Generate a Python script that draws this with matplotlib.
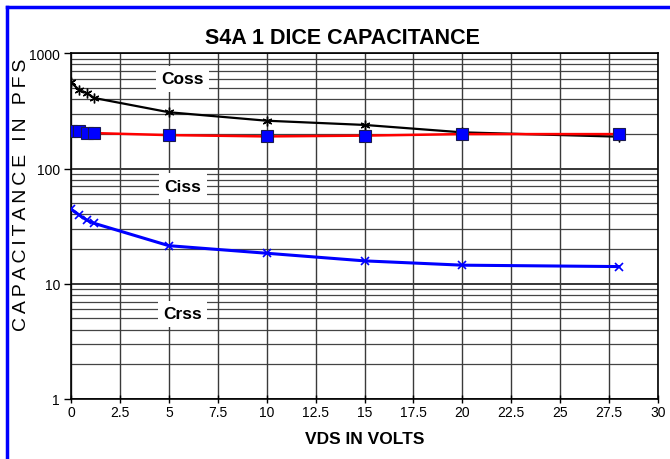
import matplotlib
matplotlib.use("Agg")
import matplotlib.pyplot as plt
from matplotlib.lines import Line2D
from matplotlib.ticker import FixedLocator, NullFormatter
from matplotlib import font_manager

# data
vds = [0, 0.4, 0.8, 1.2, 5, 10, 15, 20, 28]
coss = [560, 483, 450, 409, 308, 260, 239, 206, 189]
ciss = [210, 210, 203, 203, 195, 190, 193, 199, 199]
crss = [44.5, 39.7, 35.7, 33.4, 21.4, 18.4, 15.8, 14.5, 14.1]

xticks = [0, 2.5, 5, 7.5, 10, 12.5, 15, 17.5, 20, 22.5, 25, 27.5, 30]
xticklabels = ["0", "2.5", "5", "7.5", "10", "12.5", "15", "17.5", "20", "22.5", "25", "27.5", "30"]
yticks = [1, 10, 100, 1000]
yticklabels = ["1", "10", "100", "1000"]

# condensed font if available
names = {f.name for f in font_manager.fontManager.ttflist}
narrow = "Liberation Sans Narrow" if "Liberation Sans Narrow" in names else "Liberation Sans"
plt.rcParams["font.family"] = ["Liberation Sans", "DejaVu Sans"]

fig = plt.figure(figsize=(6.7, 4.6), dpi=100)
ax = fig.add_axes([71 / 670, 1 - 400 / 460, 587 / 670, 345.7 / 460])

ax.set_yscale("log")
ax.set_xlim(0, 30)
ax.set_ylim(1, 1000)

# grid
minor = [m * 10 ** e for e in range(0, 3) for m in range(2, 10)]
for v in minor:
    ax.axhline(v, color="#444444", lw=0.9, zorder=1)
for v in yticks:
    ax.axhline(v, color="black", lw=1.1, zorder=1)
for v in xticks:
    ax.axvline(v, color="#3a3a3a", lw=1.0, zorder=1)

ax.plot(vds, coss, color="black", lw=1.6, marker=(6, 2, 0), ms=7, mec="black", mew=1, zorder=4)
ax.plot(vds, ciss, color="red", lw=1.8, marker="s", ms=8, mfc="#0000ff", mec="#1a1a50", mew=0.8, zorder=5)
ax.plot(vds, crss, color="#0000ff", lw=2.2, marker="x", ms=6, mec="#0000ff", mew=1.2, zorder=4)

# curve labels
bbox = dict(facecolor="white", edgecolor="none", pad=4)
ax.text(5.7, 600, "Coss", fontsize=12.5, fontweight="bold", ha="center", va="center", bbox=bbox, zorder=6)
ax.text(5.7, 70, "Ciss", fontsize=12.5, fontweight="bold", ha="center", va="center", bbox=bbox, zorder=6)
ax.text(5.7, 5.5, "Crss", fontsize=12.5, fontweight="bold", ha="center", va="center", bbox=bbox, zorder=6)

ax.xaxis.set_major_locator(FixedLocator(xticks))
ax.set_xticklabels(xticklabels, fontsize=10, family=narrow)
ax.yaxis.set_major_locator(FixedLocator(yticks))
ax.yaxis.set_minor_locator(FixedLocator([]))
ax.yaxis.set_minor_formatter(NullFormatter())
ax.set_yticklabels(yticklabels, fontsize=10, family=narrow)
ax.tick_params(axis="x", direction="inout", length=6, width=1, pad=1)
ax.tick_params(axis="y", direction="out", length=5, width=1, pad=3)

for s in ax.spines.values():
    s.set_color("black")
    s.set_linewidth(1.2)

fig.text(365 / 670, 1 - 440 / 460, "VDS IN VOLTS", ha="center", va="center",
         fontsize=12.5, fontweight="bold", family=narrow)
fig.text(22 / 670, 1 - 195 / 460, "\u2009".join("CAPACITANCE IN PFS").replace("\u2009 \u2009", "\u2009\u2009 "),
         rotation=90, ha="center", va="center", fontsize=14)
fig.text(342 / 670, 1 - 38 / 460, "S4A 1 DICE CAPACITANCE", ha="center", va="center",
         fontsize=15.5, fontweight="bold", family=narrow)

# blue frame
fig.add_artist(Line2D([6.5 / 670, 1], [1 - 7.5 / 460, 1 - 7.5 / 460], color="#0000ff", lw=2.5))
fig.add_artist(Line2D([6.5 / 670, 6.5 / 670], [0, 1 - 7.5 / 460], color="#0000ff", lw=2.5))

fig.savefig("out.png", dpi=100)
